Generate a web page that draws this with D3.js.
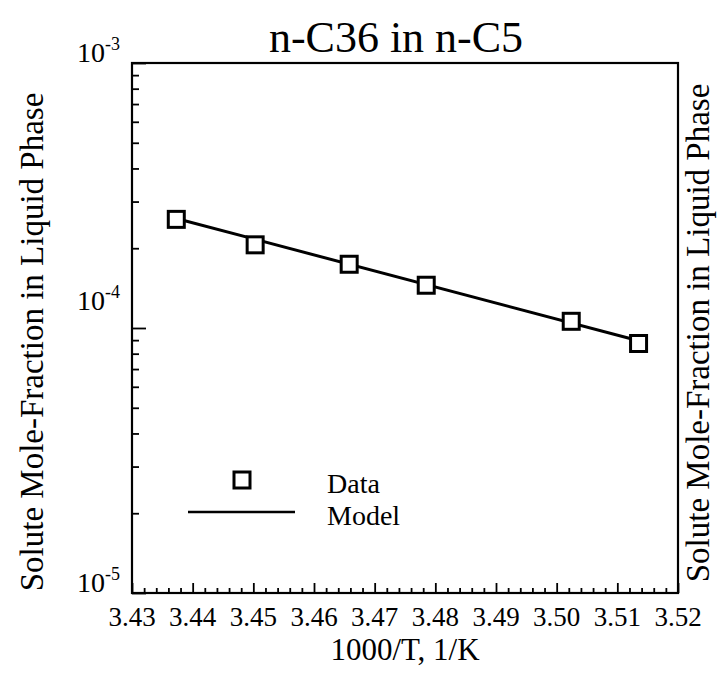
<!DOCTYPE html>
<html>
<head>
<meta charset="utf-8">
<script src="https://cdn.jsdelivr.net/npm/d3@7"></script>
<style>
  html, body { margin: 0; padding: 0; background: #fff; }
  svg { display: block; }
  text { font-family: "Liberation Serif", "Times New Roman", serif; fill: #000; }
</style>
</head>
<body>
<svg id="chart" width="724" height="679"></svg>
<script>
// ---- Data ----
const dataX = [3.4373, 3.4503, 3.4658, 3.4785, 3.5024, 3.5135];
const dataY = [2.57e-4, 2.06e-4, 1.74e-4, 1.45e-4, 1.06e-4, 8.74e-5];
const modelX = [3.4373, 3.5135];
const modelY = [2.59e-4, 8.95e-5];
const xTickValues = [3.43, 3.44, 3.45, 3.46, 3.47, 3.48, 3.49, 3.50, 3.51, 3.52];
const yTickExponents = [-3, -4, -5];
const titleText = "n-C36 in n-C5";
const xLabel = "1000/T, 1/K";
const yLabel = "Solute Mole-Fraction in Liquid Phase";
const legendLabels = ["Data", "Model"];

// ---- Layout ----
const L = 132, R = 678, T = 63, B = 593;
const svg = d3.select("#chart");
const x = d3.scaleLinear().domain([3.43, 3.52]).range([L, R]);
const y = d3.scaleLog().domain([1e-5, 1e-3]).range([B, T]);

// minor x ticks
const xMinor = d3.range(0, 46).map(i => +(3.43 + i * 0.002).toFixed(3))
  .filter(v => !xTickValues.some(t => Math.abs(t - v) < 1e-9));
const xAxisMajor = d3.axisBottom(x).tickValues(xTickValues).tickSize(-10).tickFormat("");
const xAxisMinor = d3.axisBottom(x).tickValues(xMinor).tickSize(-5).tickFormat("");
const gx1 = svg.append("g").attr("transform", `translate(0,${B})`).call(xAxisMajor);
const gx2 = svg.append("g").attr("transform", `translate(0,${B})`).call(xAxisMinor);
[gx1, gx2].forEach(g => {
  g.select(".domain").remove();
  g.selectAll("line").attr("stroke", "#000").attr("stroke-width", 1.8);
});

// y ticks
const yMajor = yTickExponents.map(e => Math.pow(10, e));
const yMinor = [];
[-5, -4].forEach(e => { for (let k = 2; k <= 9; k++) yMinor.push(k * Math.pow(10, e)); });
const gy1 = svg.append("g").attr("transform", `translate(${L},0)`)
  .call(d3.axisLeft(y).tickValues(yMajor).tickSize(-14).tickFormat(""));
const gy2 = svg.append("g").attr("transform", `translate(${L},0)`)
  .call(d3.axisLeft(y).tickValues(yMinor).tickSize(-7).tickFormat(""));
[gy1, gy2].forEach(g => {
  g.select(".domain").remove();
  g.selectAll("line").attr("stroke", "#000").attr("stroke-width", 1.8);
});

// frame
svg.append("rect").attr("x", L).attr("y", T).attr("width", R - L).attr("height", B - T)
  .attr("fill", "none").attr("stroke", "#000").attr("stroke-width", 2.2);

// x tick labels
svg.append("g").selectAll("text").data(xTickValues).join("text")
  .attr("x", d => x(d)).attr("y", B + 33)
  .attr("text-anchor", "middle").attr("font-size", 27)
  .text(d => d.toFixed(2));

// y tick labels
const yLabelOffset = { "-3": -1, "-4": -18, "-5": -1 };
yTickExponents.forEach(e => {
  const t = svg.append("text")
    .attr("x", L - 12).attr("y", y(Math.pow(10, e)) + yLabelOffset[e])
    .attr("text-anchor", "end").attr("font-size", 28);
  t.append("tspan").text("10");
  t.append("tspan").attr("dy", -12).attr("font-size", 18).text(e);
});

// titles
svg.append("text").attr("x", 396).attr("y", 52).attr("text-anchor", "middle")
  .attr("font-size", 44).text(titleText);
svg.append("text").attr("x", (L + R) / 2).attr("y", 660).attr("text-anchor", "middle")
  .attr("font-size", 31).text(xLabel);
svg.append("text").attr("transform", "translate(43,342) rotate(-90)")
  .attr("text-anchor", "middle").attr("font-size", 33).text(yLabel);
svg.append("text").attr("transform", "translate(709,333) rotate(-90)")
  .attr("text-anchor", "middle").attr("font-size", 33).text(yLabel);

// model line
const line = d3.line().x(d => x(d[0])).y(d => y(d[1]));
svg.append("path").datum(d3.zip(modelX, modelY)).attr("d", line)
  .attr("fill", "none").attr("stroke", "#000").attr("stroke-width", 3);

// data squares
const sq = 16;
svg.append("g").selectAll("rect").data(d3.zip(dataX, dataY)).join("rect")
  .attr("x", d => x(d[0]) - sq / 2).attr("y", d => y(d[1]) - sq / 2)
  .attr("width", sq).attr("height", sq)
  .attr("fill", "#fff").attr("stroke", "#000").attr("stroke-width", 3);

// legend
svg.append("rect").attr("x", 242 - sq / 2).attr("y", 480 - sq / 2).attr("width", sq).attr("height", sq)
  .attr("fill", "#fff").attr("stroke", "#000").attr("stroke-width", 3);
svg.append("line").attr("x1", 188).attr("x2", 295).attr("y1", 512).attr("y2", 512)
  .attr("stroke", "#000").attr("stroke-width", 2.5);
svg.append("text").attr("x", 327).attr("y", 493).attr("font-size", 28).text(legendLabels[0]);
svg.append("text").attr("x", 327).attr("y", 525).attr("font-size", 28).text(legendLabels[1]);
</script>
</body>
</html>
